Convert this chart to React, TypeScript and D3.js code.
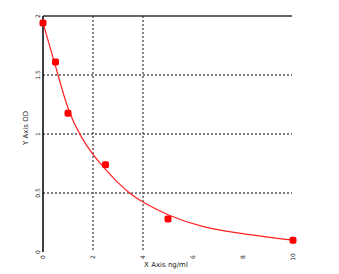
import React from "react";
import * as d3 from "d3";

const pointX = [0, 0.5, 1, 2.5, 5, 10];
const pointY = [1.94, 1.61, 1.175, 0.74, 0.28, 0.1];

const fitX = [0, 0.5, 1, 1.5, 2, 2.5, 3, 3.5, 4, 5, 6.3, 8.3, 10];
const fitY = [1.94, 1.58, 1.19, 0.98, 0.82, 0.7, 0.585, 0.49, 0.42, 0.31, 0.21, 0.144, 0.1];

const xTicks = [0, 2, 4, 6, 8, 10];
const yTicks = [0, 0.5, 1, 1.5, 2];
const xGrid = [2, 4];
const yGrid = [0.5, 1, 1.5];

export default function App() {
  const W = 339, H = 274;
  const x = d3.scaleLinear().domain([0, 10]).range([43, 293]);
  const y = d3.scaleLinear().domain([0, 2]).range([252, 16]);
  const line = d3
    .line<number>()
    .x((_, i) => x(fitX[i]))
    .y((d) => y(d))
    .curve(d3.curveBasis);
  const font = "DejaVu Sans, sans-serif";
  return (
    <svg
      width={W}
      height={H}
      style={{ position: "absolute", left: 0, top: 0, background: "#fff" }}
    >
      {xGrid.map((v) => (
        <line
          key={"xg" + v}
          x1={x(v)}
          x2={x(v)}
          y1={y(2)}
          y2={y(0)}
          stroke="#444"
          strokeWidth={1.3}
          strokeDasharray="2,2"
        />
      ))}
      {yGrid.map((v) => (
        <line
          key={"yg" + v}
          x1={x(0)}
          x2={x(10) - 1}
          y1={y(v)}
          y2={y(v)}
          stroke="#555"
          strokeWidth={1.3}
          strokeDasharray="2,2"
        />
      ))}
      <line x1={x(0)} x2={x(10) - 1} y1={y(2)} y2={y(2)} stroke="#333" strokeWidth={1.5} />
      <line x1={x(0)} x2={x(0)} y1={y(2)} y2={y(0)} stroke="#000" strokeWidth={1.5} />
      {yTicks.map((v) => (
        <text
          key={"yt" + v}
          transform={`translate(${40},${y(v)}) rotate(-90)`}
          textAnchor="middle"
          fontSize={6}
          fontFamily={font}
          fill="#222"
        >
          {v}
        </text>
      ))}
      {xTicks.map((v) => (
        <text
          key={"xt" + v}
          transform={`translate(${x(v) + 2},${257}) rotate(-90)`}
          textAnchor="middle"
          fontSize={6}
          fontFamily={font}
          fill="#222"
        >
          {v}
        </text>
      ))}
      <text
        transform={`translate(${28},${128}) rotate(-90)`}
        textAnchor="middle"
        fontSize={7}
        fontFamily={font}
        fill="#222"
      >
        Y Axis OD
      </text>
      <text x={166} y={267} textAnchor="middle" fontSize={7} fontFamily={font} fill="#222">
        X Axis ng/ml
      </text>
      <path d={line(fitY) || ""} fill="none" stroke="#ff2020" strokeWidth={1.2} />
      {pointX.map((v, i) => (
        <rect
          key={"p" + i}
          x={x(v) - 3.5}
          y={y(pointY[i]) - 3.5}
          width={7}
          height={7}
          rx={2}
          fill="#ff0000"
        />
      ))}
    </svg>
  );
}
